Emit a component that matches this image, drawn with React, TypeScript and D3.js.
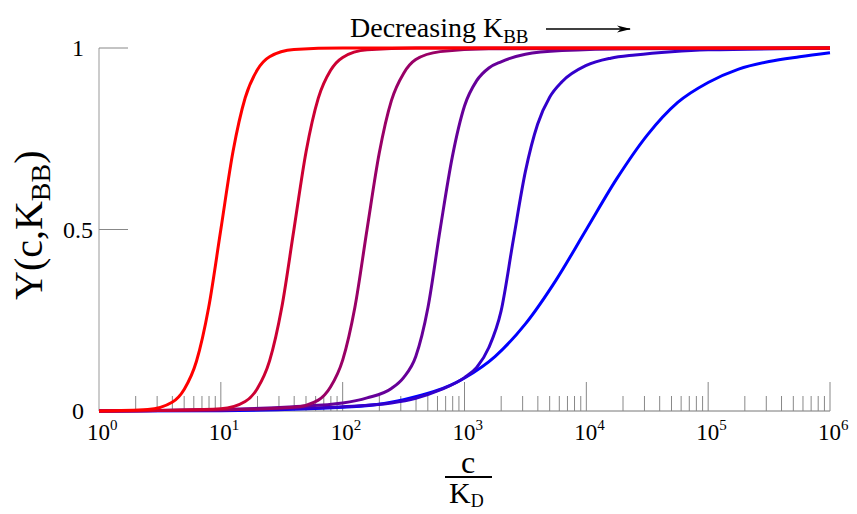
import React from "react";
import * as d3 from "d3";

// ---- data (log10(c/K_D), Y) ----
const curveColors = ["#ff0000", "#cc0033", "#990066", "#660099", "#3300cc", "#0000ff"];

const logC1 = [0, 0.4, 0.6, 0.7, 0.8, 0.9, 1.0, 1.1, 1.2, 1.3, 1.4, 1.6, 2.0, 6];
const y1 = [0, 0.004, 0.024, 0.06, 0.137, 0.285, 0.5, 0.715, 0.863, 0.94, 0.976, 0.996, 1, 1];

const logC2 = [0, 0.6, 1.0, 1.2, 1.3, 1.4, 1.5, 1.6, 1.7, 1.8, 1.9, 2.0, 2.2, 2.6, 6];
const y2 = [0, 0.002, 0.006, 0.026, 0.062, 0.138, 0.285, 0.5, 0.715, 0.862, 0.938, 0.974, 0.995, 1, 1];

const logC3 = [0, 1.0, 1.6, 1.8, 1.9, 2.0, 2.1, 2.2, 2.3, 2.4, 2.5, 2.6, 2.8, 3.2, 6];
const y3 = [0, 0.003, 0.01, 0.03, 0.066, 0.14, 0.285, 0.5, 0.71, 0.855, 0.93, 0.968, 0.99, 0.998, 1];

const logC4 = [0, 1.0, 1.6, 2.0, 2.2, 2.4, 2.5, 2.6, 2.7, 2.8, 2.9, 3.0, 3.1, 3.2, 3.3, 3.5, 3.8, 4.4, 6];
const y4 = [0, 0.004, 0.012, 0.022, 0.036, 0.062, 0.092, 0.15, 0.285, 0.5, 0.7, 0.84, 0.91, 0.945, 0.962, 0.983, 0.993, 0.998, 1];

const logC5 = [0, 1.0, 2.0, 2.4, 2.6, 2.8, 3.0, 3.1, 3.2, 3.3, 3.4, 3.5, 3.6, 3.7, 3.8, 4.0, 4.2, 4.4, 4.7, 5.0, 6];
const y5 = [0, 0.003, 0.012, 0.022, 0.035, 0.058, 0.092, 0.12, 0.175, 0.275, 0.47, 0.66, 0.79, 0.865, 0.907, 0.952, 0.972, 0.981, 0.99, 0.995, 0.999];

const logC6 = [0, 1, 2, 2.5, 3, 3.25, 3.5, 3.75, 4, 4.25, 4.5, 4.75, 5, 5.25, 5.5, 5.75, 6];
const y6 = [0.0001, 0.001, 0.01, 0.031, 0.091, 0.15, 0.24, 0.36, 0.5, 0.64, 0.76, 0.85, 0.905, 0.942, 0.963, 0.976, 0.987];

const xDecades = [0, 1, 2, 3, 4, 5, 6];
const yTicks = [0, 0.5, 1];
const yTickLabels = ["0", "0.5", "1"];

const curvesX = [logC1, logC2, logC3, logC4, logC5, logC6];
const curvesY = [y1, y2, y3, y4, y5, y6];

const W = 857;
const H = 514;

export default function App() {
  const x = d3.scaleLog().domain([1, 1e6]).range([99, 830]);
  const y = d3.scaleLinear().domain([0, 1]).range([411, 48]);

  const line = d3
    .line<[number, number]>()
    .x((d) => x(Math.pow(10, d[0])))
    .y((d) => y(d[1]))
    .curve(d3.curveMonotoneX);

  const minor: number[] = [];
  for (let dec = 0; dec < 6; dec++) {
    for (let m = 2; m <= 9; m++) minor.push(m * Math.pow(10, dec));
  }
  const major = xDecades.filter((d) => d > 0).map((d) => Math.pow(10, d));

  const serif = "'Liberation Serif', 'DejaVu Serif', serif";
  const order = [5, 4, 3, 2, 1, 0];

  return (
    <svg
      width={W}
      height={H}
      style={{ position: "absolute", left: 0, top: 0, background: "#fff" }}
      fontFamily={serif}
    >
      <rect x={0} y={0} width={W} height={H} fill="#fff" />
      {/* x axis baseline */}
      <line x1={x(1)} x2={x(1e6)} y1={y(0)} y2={y(0)} stroke="#777" strokeWidth={1} />
      {minor.map((v, i) => (
        <line key={"mi" + i} x1={x(v)} x2={x(v)} y1={y(0)} y2={y(0) - 15} stroke="#888" strokeWidth={1} />
      ))}
      {major.map((v, i) => (
        <line key={"ma" + i} x1={x(v)} x2={x(v)} y1={y(0)} y2={y(0) - 29} stroke="#888" strokeWidth={1} />
      ))}
      {/* y axis */}
      <line x1={x(1)} x2={x(1)} y1={y(1)} y2={y(0)} stroke="#bbb" strokeWidth={1.5} />
      {yTicks.map((t, i) => (
        <g key={"yt" + i}>
          {t > 0 && (
            <line x1={x(1)} x2={x(1) + 29} y1={y(t)} y2={y(t)} stroke="#888" strokeWidth={1} />
          )}
          <text x={78} y={y(t) + 8} fontSize={24} textAnchor="middle" fill="#000">
            {yTickLabels[i]}
          </text>
        </g>
      ))}
      {/* x tick labels */}
      {xDecades.map((d) => (
        <text key={"xl" + d} x={x(Math.pow(10, d)) - 12} y={440} fontSize={23} fill="#000">
          10
          <tspan dy={-10} fontSize={15}>
            {d}
          </tspan>
        </text>
      ))}
      {/* curves */}
      {order.map((k) => {
        const pts = curvesX[k].map((lx, j) => [lx, curvesY[k][j]] as [number, number]);
        return (
          <path key={"c" + k} d={line(pts) || ""} fill="none" stroke={curveColors[k]} strokeWidth={3} />
        );
      })}
      {/* y title */}
      <text transform="translate(42,300) rotate(-90)" fontSize={40} fill="#000">
        Y(c,K
        <tspan dy={8} fontSize={28}>
          BB
        </tspan>
        <tspan dy={-8} fontSize={40}>
          )
        </tspan>
      </text>
      {/* x title */}
      <text x={468} y={473} fontSize={32} textAnchor="middle" fill="#000">
        c
      </text>
      <line x1={445} x2={492} y1={477} y2={477} stroke="#000" strokeWidth={2} />
      <text x={449} y={503} fontSize={30} fill="#000">
        K
        <tspan dy={4} fontSize={18}>
          D
        </tspan>
      </text>
      {/* annotation */}
      <text x={350} y={37} fontSize={28} fill="#000">
        Decreasing K
        <tspan dy={6} fontSize={19}>
          BB
        </tspan>
      </text>
      <defs>
        <marker id="ah" markerWidth={14} markerHeight={8} refX={13} refY={4} orient="auto" markerUnits="userSpaceOnUse">
          <path d="M0,0.5 L14,4 L0,7.5 L4,4 Z" fill="#000" />
        </marker>
      </defs>
      <line x1={546} x2={630} y1={29} y2={29} stroke="#000" strokeWidth={1.5} markerEnd="url(#ah)" />
    </svg>
  );
}
